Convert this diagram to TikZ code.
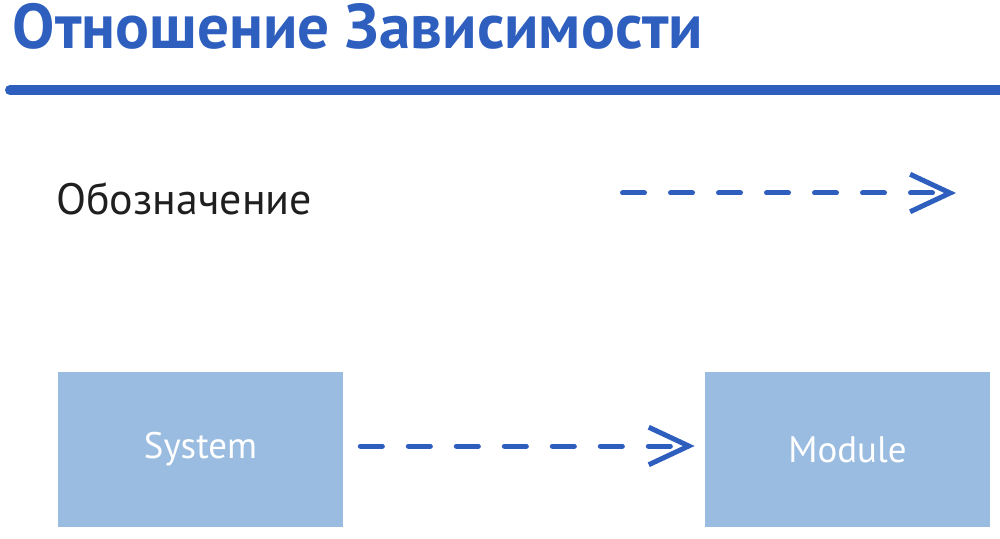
\documentclass[tikz,border=0pt]{standalone}
\usepackage{fontspec}
\setmainfont{PT Sans}
\usepackage{tikz}
\usetikzlibrary{arrows.meta}
\definecolor{umlblue}{HTML}{2E5FBF}
\definecolor{boxblue}{HTML}{99BCE0}
\definecolor{ink}{HTML}{1F1F1F}
\tikzstyle{block}=[fill=boxblue, inner sep=0pt, minimum width=5.7cm, minimum height=3.1cm, text=white, font=\fontsize{21}{25}\selectfont]
\tikzstyle{dep}=[draw=umlblue, line width=0.1cm, line cap=round, dash pattern=on 0.44cm off 0.52cm, -{Straight Barb[length=0.8cm, width=0.75cm]}]

\begin{document}
\begin{tikzpicture}
        \useasboundingbox (0, 0) rectangle (20, 10.76);
        \node[anchor=base west, inner sep=0pt, text=umlblue, font=\fontsize{36}{42}\selectfont\bfseries] (title) at (0.24, 9.78) {Отношение Зависимости};
        \draw[umlblue, line width=0.2cm, line cap=round] (0.2, 8.96) -- (20.4, 8.96);
        \node[anchor=base west, inner sep=0pt, text=ink, font=\fontsize{25}{30}\selectfont] (legend) at (1.12, 6.46) {Обозначение};
        \coordinate (L1) at (12.45, 6.9);
        \coordinate (L2) at (19.12, 6.9);
        \draw[dep] (L1) -- (L2);
        \node[block] (sys) at (4.01, 1.77) {System};
        \node[block] (mod) at (16.95, 1.77) {Module};
        \draw[dep, shorten <=0.34cm, shorten >=0.2cm] ([yshift=0.07cm]sys.east) -- ([yshift=0.07cm]mod.west);
    \end{tikzpicture}
\end{document}
